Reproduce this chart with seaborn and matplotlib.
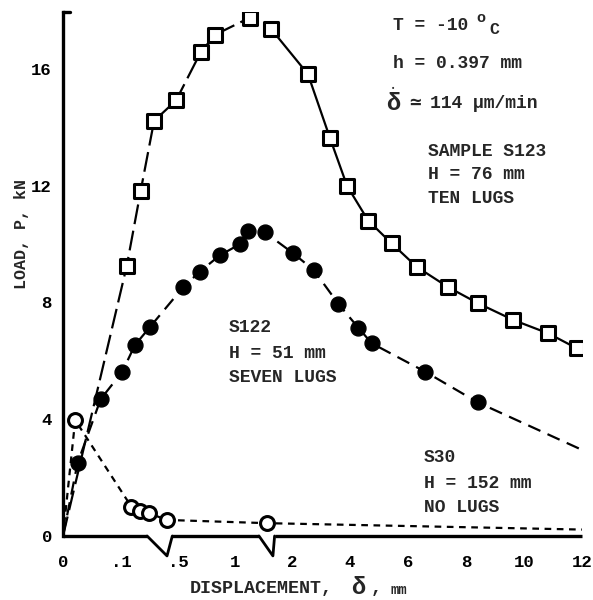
import numpy as np
import matplotlib
matplotlib.use("Agg")
import matplotlib.pyplot as plt
import seaborn as sns

# sample S123, H = 76 mm, ten lugs (open squares)
s123_x = [0.110, 0.134, 0.205, 0.483, 0.699, 0.825, 1.132, 1.355, 2.55, 3.31,
          3.90, 4.63, 5.44, 6.30, 7.39, 8.42, 9.63, 10.84, 11.82]
s123_y = [9.26, 11.83, 14.22, 14.92, 16.57, 17.17, 17.76, 17.38, 15.82, 13.63,
          11.99, 10.80, 10.02, 9.22, 8.52, 7.97, 7.40, 6.94, 6.43]

# sample S122, H = 51 mm, seven lugs (filled circles)
s122_x = [0.025, 0.065, 0.102, 0.124, 0.150, 0.547, 0.690, 0.865, 1.040, 1.117,
          1.285, 2.02, 2.75, 3.60, 4.29, 4.75, 6.59, 8.40]
s122_y = [2.49, 4.69, 5.62, 6.54, 7.16, 8.53, 9.05, 9.61, 9.99, 10.44,
          10.40, 9.70, 9.11, 7.95, 7.13, 6.60, 5.63, 4.58]
s122_tail = (12.0, 2.95)

# sample S30, H = 152 mm, no lugs (open circles)
s30_x = [0.021, 0.118, 0.133, 0.148, 0.378, 1.305]
s30_y = [3.97, 1.00, 0.86, 0.78, 0.55, 0.44]
s30_tail = (12.0, 0.22)

tick_vals = [0, 0.1, 0.5, 1, 2, 4, 6, 8, 10, 12]
tick_labels = ["0", ".1", ".5", "1", "2", "4", "6", "8", "10", "12"]

# broken displacement axis: piecewise linear knots (value -> position)
knot_x = np.array([0, 0.15, 0.45, 1.2, 1.4, 12])
knot_p = np.array([63, 150, 172.3, 257.8, 274.6, 582.0])
breaks = [(0.145, 0.379, 0.45), (1.214, 1.38, 1.40)]


def fwd(x):
    x = np.asarray(x, dtype=float)
    p = np.interp(x, knot_x, knot_p)
    p = np.where(x < knot_x[0], knot_p[0] + (x - knot_x[0]) * 580, p)
    p = np.where(x > knot_x[-1], knot_p[-1] + (x - knot_x[-1]) * 29, p)
    return p


def inv(p):
    p = np.asarray(p, dtype=float)
    x = np.interp(p, knot_p, knot_x)
    x = np.where(p < knot_p[0], knot_x[0] + (p - knot_p[0]) / 580, x)
    x = np.where(p > knot_p[-1], knot_x[-1] + (p - knot_p[-1]) / 29, x)
    return x


sns.set_style("white")
plt.rcParams['font.family'] = ['Liberation Mono', 'DejaVu Sans Mono', 'DejaVu Sans']
plt.rcParams['font.weight'] = 'bold'

W, H = 593, 600
fig = plt.figure(figsize=(5.93, 6.0), dpi=100)
ax = fig.add_axes([63 / W, 1 - 536 / H, (582 - 63) / W, (536 - 12) / H])
ax.set_xscale('function', functions=(fwd, inv))
ax.set_xlim(0, 12)
ax.set_ylim(0, 17.95)

lw = 1.6
# curves (all start from the origin)
sns.lineplot(x=[0] + s123_x[:8], y=[0] + s123_y[:8], ax=ax, color='black',
             lw=lw, linestyle=(0, (9, 3)), sort=False)
sns.lineplot(x=s123_x[7:], y=s123_y[7:], ax=ax, color='black', lw=lw, sort=False)
sns.lineplot(x=[0] + s122_x + [s122_tail[0]], y=[0] + s122_y + [s122_tail[1]],
             ax=ax, color='black', lw=lw, linestyle=(0, (6, 3.5)), sort=False)
sns.lineplot(x=[0] + s30_x + [s30_tail[0]], y=[0] + s30_y + [s30_tail[1]],
             ax=ax, color='black', lw=lw, linestyle=(0, (3, 2.5)), sort=False)

# markers
sns.scatterplot(x=s123_x, y=s123_y, ax=ax, marker='s', s=95, color='white',
                edgecolor='black', linewidth=2.2, zorder=4)
sns.scatterplot(x=s122_x, y=s122_y, ax=ax, marker='o', s=115, color='black',
                edgecolor='black', linewidth=1, zorder=4)
sns.scatterplot(x=s30_x, y=s30_y, ax=ax, marker='o', s=100, color='white',
                edgecolor='black', linewidth=2.2, zorder=4)

# axes frame
for side in ['top', 'right', 'bottom']:
    ax.spines[side].set_visible(False)
ax.spines['left'].set_linewidth(2.4)
ax.spines['left'].set_color('black')
xt = ax.get_xaxis_transform()
segs = [0] + [v for b in breaks for v in (b[0], b[2])] + [12]
for a, b in zip(segs[::2], segs[1::2]):
    ax.plot([a, b], [0, 0], transform=xt, color='black', lw=2.4, clip_on=False,
            solid_capstyle='butt')
for b0, bm, b1 in breaks:
    ax.plot([b0, bm, b1], [0, -0.038, 0], transform=xt, color='black', lw=2,
            clip_on=False)
ax.plot([0, 0.014], [1, 1], transform=ax.transAxes, color='black', lw=2.4,
        clip_on=False)

ax.set_xticks(tick_vals)
ax.set_xticklabels(tick_labels)
ax.set_xticks([], minor=True)
ax.set_yticks([0, 4, 8, 12, 16])
ax.set_yticks([2, 6, 10, 14], minor=True)
ax.tick_params(axis='x', direction='in', length=7, width=2, pad=14,
               labelsize=12.5, colors='black')
ax.tick_params(axis='y', which='major', direction='in', length=9, width=2,
               pad=8, labelsize=12.5, colors='black')
ax.tick_params(axis='y', which='minor', direction='in', length=6, width=2)

fig.text(22 / W, 1 - 234 / H, "LOAD, P, kN", rotation=90, ha='center',
         va='center', fontsize=12)
fig.text(190 / W, 1 - 588 / H, "DISPLACEMENT,", ha='left', va='center',
         fontsize=13.2)
fig.text(351 / W, 1 - 587 / H, "δ", ha='left', va='center', fontsize=17)
fig.text(371 / W, 1 - 588 / H, ",", ha='left', va='center', fontsize=13.2)
fig.text(391 / W, 1 - 590 / H, "mm", ha='left', va='center', fontsize=10)


def label(x, y, s, **kw):
    kw.setdefault('fontsize', 13)
    fig.text(x / W, 1 - y / H, s, ha='left', va='center', **kw)


label(393, 25, "T = -10")
label(476, 18, "o", fontsize=11)
label(489, 30, "C", fontsize=12)
label(393, 63, "h = 0.397 mm")
label(386, 103, "δ", fontsize=17)
label(391, 88, "•", fontsize=5)
label(409, 103, "≃", fontsize=14)
label(430, 103, "114 μm/min")
for i, s in enumerate(["SAMPLE S123", "H = 76 mm", "TEN LUGS"]):
    label(428, 151 + i * 23.5, s)
for i, s in enumerate(["S122", "H = 51 mm", "SEVEN LUGS"]):
    label(229, 328 + i * 25, s)
for i, s in enumerate(["S30", "H = 152 mm", "NO LUGS"]):
    label(424, 458 + i * 25, s)

fig.savefig("out.png", dpi=100)
